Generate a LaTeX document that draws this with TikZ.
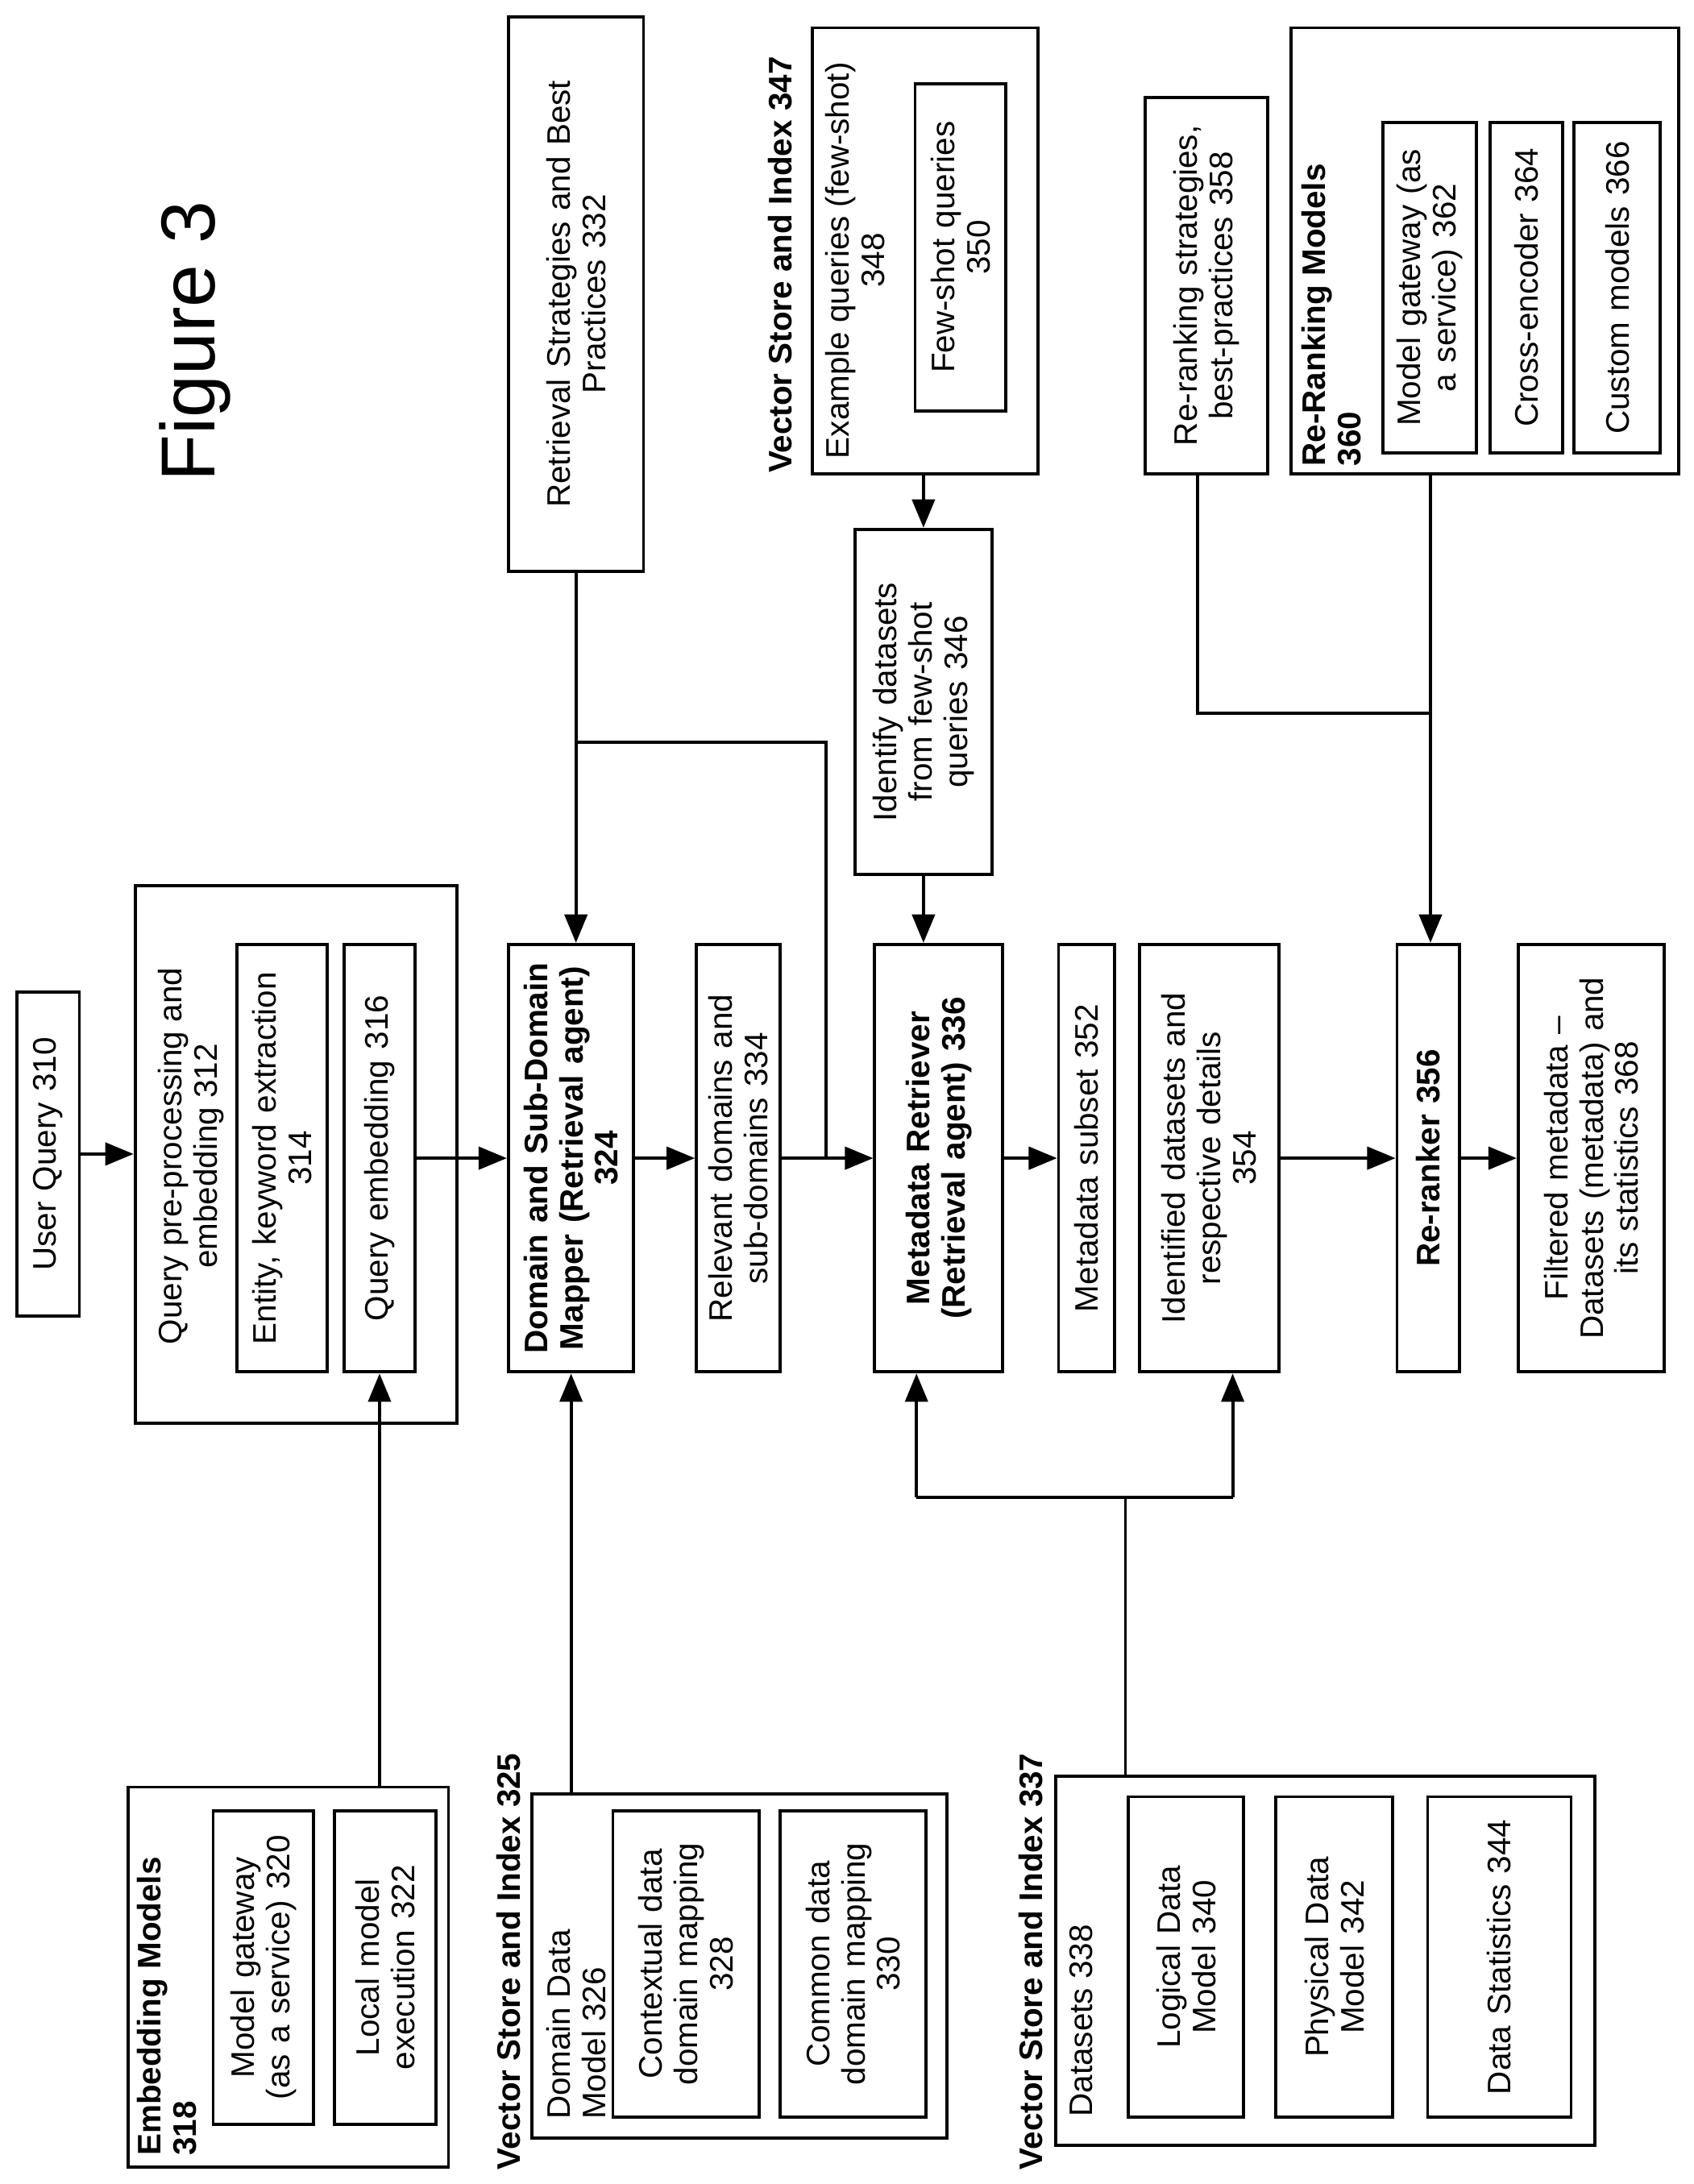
\documentclass[tikz,border=0pt]{standalone}
\usepackage{fontspec}
\setmainfont{Liberation Sans}
\usetikzlibrary{arrows.meta}
\newcommand{\bx}[6]{\node[box,minimum width={(#5-#3)*0.017286cm},minimum height={(#4-#2)*0.017286cm},text width={(#5-#3)*0.017286cm-10pt}] (#1) at ({(#2+#4)/2},{(#3+#5)/2}) {#6};}
\begin{document}
\begin{tikzpicture}[x=0.017286cm,y=-0.017286cm,
  every node/.style={font=\fontsize{11.5}{12.5}\selectfont},
  box/.style={draw,line width=1.1pt,rotate=90,align=center,inner sep=0pt},
  lbl/.style={rotate=90,inner sep=0pt},
  ln/.style={line width=1.1pt},
  arr/.style={line width=1.1pt,-{Triangle[length=10pt,width=8pt]}}]
\useasboundingbox (0,0) rectangle (1216,1568);
\node[lbl,font=\fontsize{27}{30}\selectfont] (fig) at (140,245) {Figure 3};
% main column
\bx{uq}{12}{712}{57}{945}{User Query 310}
\bx{q312}{97}{636}{328}{1022}{}
\node[lbl,align=center] (t312) at (137,830) {Query pre-processing and\\embedding 312};
\bx{e314}{170}{678}{235}{985}{Entity, keyword extraction\\314}
\bx{q316}{247}{678}{298}{985}{Query embedding 316}
\bx{m324}{365}{678}{455}{985}{\bfseries Domain and Sub-Domain\\\bfseries Mapper (Retrieval agent)\\\bfseries 324}
\bx{r334}{500}{678}{560}{985}{Relevant domains and\\sub-domains 334}
\bx{md336}{628}{678}{720}{985}{\bfseries Metadata Retriever\\\bfseries (Retrieval agent) 336}
\bx{s352}{760}{678}{800}{985}{Metadata subset 352}
\bx{id354}{818}{678}{918}{985}{Identified datasets and\\respective details\\354}
\bx{rr356}{1003}{678}{1048}{985}{\bfseries Re-ranker 356}
\bx{f368}{1090}{678}{1195}{985}{Filtered metadata --\\Datasets (metadata) and\\its statistics 368}
% top
\bx{r332}{365}{12}{462}{410}{Retrieval Strategies and Best\\Practices 332}
\bx{vs347}{583}{20}{745}{340}{}
\node[lbl,anchor=west,font=\fontsize{11.5}{12.5}\selectfont\bfseries] (l347) at (560,340) {Vector Store and Index 347};
\node[lbl,align=center] (t348) at (614,187) {Example queries (few-shot)\\348};
\bx{f350}{657}{60}{722}{295}{Few-shot queries\\350}
\bx{i346}{614}{380}{712}{628}{Identify datasets\\from few-shot\\queries 346}
\bx{rs358}{822}{70}{910}{340}{Re-ranking strategies,\\best-practices 358}
\bx{rm360}{927}{20}{1205}{340}{}
\node[lbl,anchor=north west,align=left,font=\fontsize{11.5}{12.5}\selectfont\bfseries] (t360) at (934,335) {Re-Ranking Models\\360};
\bx{g362}{993}{88}{1060}{325}{Model gateway (as\\a service) 362}
\bx{c364}{1070}{88}{1122}{325}{Cross-encoder 364}
\bx{c366}{1130}{88}{1192}{325}{Custom models 366}
% bottom
\bx{em318}{92}{1283}{322}{1556}{}
\node[lbl,anchor=north west,align=left,font=\fontsize{11.5}{12.5}\selectfont\bfseries] (t318) at (98,1548) {Embedding Models\\318};
\bx{g320}{153}{1300}{225}{1525}{Model gateway\\(as a service) 320}
\bx{l322}{240}{1300}{313}{1525}{Local model\\execution 322}
\bx{vs325}{382}{1288}{680}{1535}{}
\node[lbl,anchor=west,font=\fontsize{11.5}{12.5}\selectfont\bfseries] (l325) at (365,1558) {Vector Store and Index 325};
\node[lbl,anchor=north west,align=left] (t326) at (392,1522) {Domain Data\\Model 326};
\bx{c328}{440}{1300}{545}{1520}{Contextual data\\domain mapping\\328}
\bx{c330}{560}{1300}{665}{1520}{Common data\\domain mapping\\330}
\bx{vs337}{758}{1275}{1145}{1540}{}
\node[lbl,anchor=west,font=\fontsize{11.5}{12.5}\selectfont\bfseries] (l337) at (740,1558) {Vector Store and Index 337};
\node[lbl,anchor=west] (t338) at (776,1520) {Datasets 338};
\bx{l340}{810}{1290}{893}{1520}{Logical Data\\Model 340}
\bx{p342}{916}{1290}{1000}{1520}{Physical Data\\Model 342}
\bx{d344}{1025}{1290}{1128}{1520}{Data Statistics 344}
% connectors
\draw[arr] (uq.south) -- (uq.south -| q312.north);
\draw[arr] (q316.south) -- (q316.south -| m324.north);
\draw[arr] (q316.west |- em318.east) -- (q316.west);
\draw[arr] (m324.west |- vs325.east) -- (m324.west);
\draw[arr] (m324.south) -- (m324.south -| r334.north);
\draw[arr] (r334.south) -- (r334.south -| md336.north);
\draw[arr] (md336.south) -- (md336.south -| s352.north);
\draw[arr] (id354.south) -- (id354.south -| rr356.north);
\draw[arr] (rr356.south) -- (rr356.south -| f368.north);
\draw[arr] (r332.west) -- (r332.west |- m324.east);
\coordinate (j1) at (r332.west |- 0,533);
\coordinate (j2) at (593,533);
\draw[ln] (j1) -- (j2) -- (j2 |- r334.south);
\draw[arr] (i346.east |- vs347.west) -- (i346.east);
\draw[arr] (i346.west) -- (i346.west |- md336.east);
\coordinate (k1) at (808,1075);
\coordinate (k2) at (658,1075);
\coordinate (k3) at (885,1075);
\draw[ln] (k1 |- vs337.east) -- (k1);
\draw[ln] (k2) -- (k3);
\draw[arr] (k2) -- (k2 |- md336.west);
\draw[arr] (k3) -- (k3 |- id354.west);
\coordinate (p1) at (860,512);
\coordinate (p2) at (1027,512);
\draw[ln] (p1 |- rs358.west) -- (p1) -- (p2);
\draw[arr] (p2 |- rm360.west) -- (p2 |- rr356.east);
\end{tikzpicture}
\end{document}
